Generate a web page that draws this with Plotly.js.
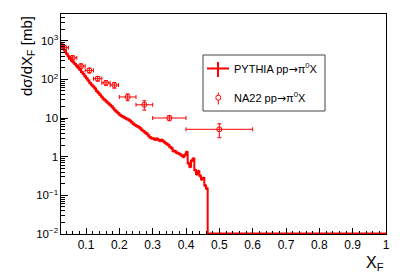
<!DOCTYPE html>
<html>
<head>
<meta charset="utf-8">
<script src="https://cdn.plot.ly/plotly-3.0.1.min.js"></script>
<style>
html,body{margin:0;padding:0;background:#fff;}
#chart{width:407px;height:277px;}
</style>
</head>
<body>
<div id="chart"></div>
<script>
// PYTHIA histogram: bin width 0.005 starting at xF = 0.025 (lower edges), values in mb
var pythiaStart = 0.025;
var pythiaBinWidth = 0.005;
var pythiaVals = [794, 631, 550, 457, 398, 347, 302, 275, 251, 224,
  200, 178, 155, 138, 120, 107, 93, 81, 72, 65,
  58, 50, 45, 40, 35.5, 31.6, 28.8, 26.3, 24, 21.9,
  20, 17.8, 15.8, 14.5, 13.2, 12, 11.2, 10.7, 10, 9.5,
  9.1, 8.5, 7.8, 7.1, 6.6, 6.2, 5.9, 5.5, 5.0, 4.6,
  4.2, 4.0, 3.55, 3.16, 3.0, 2.95, 2.8, 2.9, 2.75, 2.6,
  2.7, 2.5, 2.3, 2.15, 2.0, 1.78, 1.66, 1.41, 1.38, 1.26,
  1.23, 1.15, 1.07, 1.0, 1.12, 1.3, 0.68, 0.55, 0.79, 0.89,
  0.45, 0.355, 0.42, 0.32, 0.26, 0.28, 0.18, 0.15];
var pythiaEnd = 1.0;   // histogram range ends at 1 (empty bins beyond last value)

// NA22 data points
var na22X = [0.035, 0.06, 0.085, 0.11, 0.135, 0.16, 0.185, 0.225, 0.275, 0.35, 0.5];
var na22Xerr = [0.0125, 0.0125, 0.0125, 0.0125, 0.0125, 0.0125, 0.0125, 0.025, 0.025, 0.05, 0.1];
var na22Y = [660, 360, 220, 170, 104, 81, 71, 35, 22, 10, 5.1];
var na22Yerr = [80, 45, 30, 25, 14, 11, 12, 7, 6, 1.5, 2];

var arrow = '<span style="font-family:DejaVu Sans">\u2192</span>';
var legendLabels = ['PYTHIA pp' + arrow + '\u03c0<sup>0</sup>X', 'NA22 pp' + arrow + '\u03c0<sup>0</sup>X'];
var xTitle = 'X<sub>F</sub>';
var yTitle = 'd\u03c3/dX<sub>F</sub> [mb]';

var yMinLog = -2, yMaxLog = 3.69;
var floorVal = Math.pow(10, yMinLog + 0.012);

// step line: lower edges + final edge
var hx = [], hy = [], cx = [], cy = [];
for (var i = 0; i < pythiaVals.length; i++) {
  var lo = pythiaStart + i * pythiaBinWidth;
  hx.push(lo); hy.push(pythiaVals[i]);
  cx.push(lo + pythiaBinWidth / 2); cy.push(pythiaVals[i]);
}
var lastEdge = pythiaStart + pythiaVals.length * pythiaBinWidth;
hx.push(lastEdge); hy.push(floorVal);
hx.push(pythiaEnd); hy.push(floorVal);

var red = '#ff0000';
var traces = [
  {x: hx, y: hy, type: 'scatter', mode: 'lines', line: {color: red, width: 2, shape: 'hv'}, hoverinfo: 'skip'},
  {x: cx, y: cy, type: 'scatter', mode: 'markers', marker: {size: 0.1, color: red},
   error_y: {type: 'percent', value: 9, color: red, thickness: 1.5, width: 0}, hoverinfo: 'skip'},
  {x: na22X, y: na22Y, type: 'scatter', mode: 'markers',
   marker: {symbol: 'circle-open', size: 5, color: red, line: {width: 1, color: red}},
   error_x: {type: 'data', array: na22Xerr, color: red, thickness: 1, width: 2},
   error_y: {type: 'data', array: na22Yerr, color: red, thickness: 1, width: 2}}
];

// pixel helpers for annotation/legend placement
var L = 61, R = 386, T = 14, B = 234;
function px(x) { return (x - L) / (R - L); }
function py(y) { return (B - y) / (B - T); }

var font = 'Liberation Sans, Arial, Helvetica, sans-serif';
var layout = {
  width: 407, height: 277,
  margin: {l: L, r: 407 - R, t: T, b: 277 - B},
  paper_bgcolor: '#fff', plot_bgcolor: '#fff',
  showlegend: false,
  font: {family: font, color: '#000'},
  xaxis: {
    range: [0.025, 1], showgrid: false, zeroline: false,
    showline: true, linecolor: '#000', linewidth: 1, mirror: true,
    ticks: 'inside', ticklen: 6, tickcolor: '#000', tickwidth: 1,
    tickmode: 'linear', tick0: 0, dtick: 0.1,
    tickfont: {size: 12, family: font},
    minor: {ticks: 'inside', ticklen: 3, dtick: 0.02, tick0: 0, tickcolor: '#000'}
  },
  yaxis: {
    type: 'log', range: [yMinLog, yMaxLog], showgrid: false, zeroline: false,
    showline: true, linecolor: '#000', linewidth: 1, mirror: true,
    ticks: 'inside', ticklen: 7, tickcolor: '#000', tickwidth: 1,
    dtick: 1, exponentformat: 'power',
    tickfont: {size: 9.2, family: font},
    minor: {ticks: 'inside', ticklen: 4, dtick: 'D1', tickcolor: '#000'}
  },
  annotations: [
    {xref: 'paper', yref: 'paper', x: px(27), y: 1.0, xanchor: 'center', yanchor: 'top',
     text: yTitle, textangle: -90, showarrow: false, font: {size: 15, family: font}},
    {xref: 'paper', yref: 'paper', x: 1.0, y: py(263), xanchor: 'right', yanchor: 'middle',
     text: xTitle, showarrow: false, font: {size: 16, family: font}},
    {xref: 'paper', yref: 'paper', x: px(232), y: py(68.5), xanchor: 'left', yanchor: 'middle',
     text: legendLabels[0], showarrow: false, font: {size: 11, family: font}},
    {xref: 'paper', yref: 'paper', x: px(232), y: py(97.5), xanchor: 'left', yanchor: 'middle',
     text: legendLabels[1], showarrow: false, font: {size: 11, family: font}}
  ],
  shapes: [
    {type: 'rect', xref: 'paper', yref: 'paper', x0: px(203), x1: px(325), y0: py(111), y1: py(55),
     line: {color: '#444', width: 1}, fillcolor: '#fff', layer: 'above'},
    {type: 'line', xref: 'paper', yref: 'paper', x0: px(207), x1: px(229), y0: py(68.5), y1: py(68.5),
     line: {color: red, width: 2}},
    {type: 'line', xref: 'paper', yref: 'paper', x0: px(218), x1: px(218), y0: py(62), y1: py(77),
     line: {color: red, width: 2}},
    {type: 'line', xref: 'paper', yref: 'paper', x0: px(218.3), x1: px(218.3), y0: py(92.5), y1: py(104.5),
     line: {color: red, width: 1}},
    {type: 'circle', xref: 'paper', yref: 'paper', xsizemode: 'pixel', ysizemode: 'pixel',
     xanchor: px(218.3), yanchor: py(97.7), x0: -2.5, x1: 2.5, y0: -2.5, y1: 2.5,
     line: {color: red, width: 1}, fillcolor: '#fff'}
  ]
};

Plotly.newPlot('chart', traces, layout, {staticPlot: true, displayModeBar: false});
</script>
</body>
</html>
